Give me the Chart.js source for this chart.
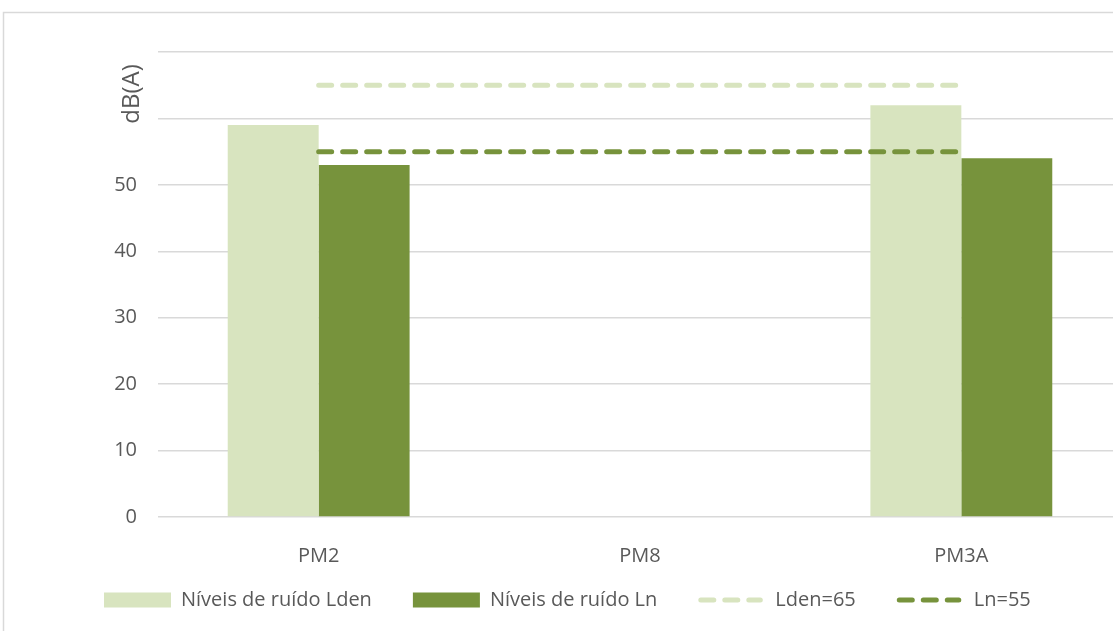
<!DOCTYPE html>
<html>
<head>
<meta charset="utf-8">
<script src="https://cdn.jsdelivr.net/npm/chart.js@4/dist/chart.umd.min.js"></script>
<style>
  html, body { margin: 0; padding: 0; background: #fff; overflow: hidden; }
  #wrap { position: relative; width: 1122px; height: 631px; }
</style>
</head>
<body>
<div id="wrap"><canvas id="noiseChart"></canvas></div>
<script>
const categories = ['PM2', 'PM8', 'PM3A'];
const ldenValues = [59, null, 62];
const lnValues = [53, null, 54];
const ldenLimit = [65, 65, 65];
const lnLimit = [55, 55, 55];
const yMin = 0;
const yMax = 70;
const yStep = 10;
// tick labels hidden behind the axis title in the original
const hiddenTicks = [60, 70];

const LIGHT = '#d8e4bf';
const DARK = '#77933c';
const TEXT = '#595959';
const GRID = '#d9d9d9';
const FONT = '"Open Sans", sans-serif';

// frame around the chart (like the Excel chart border)
const framePlugin = {
  id: 'frame',
  beforeDraw(chart) {
    const ctx = chart.ctx;
    ctx.save();
    ctx.strokeStyle = GRID;
    ctx.lineWidth = 1.5;
    ctx.strokeRect(3.5, 12.5, chart.width + 20, chart.height + 20);
    ctx.restore();
  }
};

// axis title + legend drawn by hand so the layout follows the original
const extrasPlugin = {
  id: 'extras',
  afterDraw(chart) {
    const ctx = chart.ctx;
    ctx.save();

    // y axis title
    ctx.translate(132, 94);
    ctx.rotate(-Math.PI / 2);
    ctx.fillStyle = TEXT;
    ctx.font = `24px ${FONT}`;
    ctx.textAlign = 'center';
    ctx.textBaseline = 'middle';
    ctx.fillText('dB(A)', 0, 0);
    ctx.setTransform(1, 0, 0, 1, 0, 0);

    // legend
    const y = 600;
    let x = 104;
    ctx.font = `20px ${FONT}`;
    ctx.textAlign = 'left';
    ctx.textBaseline = 'middle';
    chart.data.datasets.forEach(ds => {
      if (ds.type === 'line') {
        ctx.strokeStyle = ds.borderColor;
        ctx.lineWidth = 5;
        ctx.lineCap = 'round';
        ctx.setLineDash([13, 11]);
        ctx.beginPath();
        ctx.moveTo(x + 2.5, y);
        ctx.lineTo(x + 62, y);
        ctx.stroke();
        ctx.setLineDash([]);
        x += 64 + 13;
      } else {
        ctx.fillStyle = ds.backgroundColor;
        ctx.fillRect(x, y - 7.5, 67, 15);
        x += 67 + 10;
      }
      ctx.fillStyle = TEXT;
      ctx.fillText(ds.label, x, y);
      x += ctx.measureText(ds.label).width + 41;
    });
    ctx.restore();
  }
};

new Chart(document.getElementById('noiseChart').getContext('2d'), {
  type: 'bar',
  data: {
    labels: categories,
    datasets: [
      {
        label: 'Níveis de ruído Lden',
        data: ldenValues,
        backgroundColor: LIGHT,
        categoryPercentage: 0.566,
        barPercentage: 1,
        order: 2
      },
      {
        label: 'Níveis de ruído Ln',
        data: lnValues,
        backgroundColor: DARK,
        categoryPercentage: 0.566,
        barPercentage: 1,
        order: 2
      },
      {
        type: 'line',
        label: 'Lden=65',
        data: ldenLimit,
        borderColor: LIGHT,
        backgroundColor: LIGHT,
        borderWidth: 5,
        borderDash: [13, 11],
        borderCapStyle: 'round',
        pointRadius: 0,
        fill: false,
        order: 1
      },
      {
        type: 'line',
        label: 'Ln=55',
        data: lnLimit,
        borderColor: DARK,
        backgroundColor: DARK,
        borderWidth: 5,
        borderDash: [13, 11],
        borderCapStyle: 'round',
        pointRadius: 0,
        fill: false,
        order: 0
      }
    ]
  },
  options: {
    responsive: true,
    maintainAspectRatio: false,
    animation: false,
    layout: { padding: { top: 52, right: 0, bottom: 0, left: 0 } },
    plugins: {
      legend: { display: false },
      tooltip: { enabled: false }
    },
    scales: {
      x: {
        grid: { display: false },
        border: { display: false },
        ticks: { color: TEXT, font: { family: FONT, size: 20 }, padding: 19 },
        afterFit: s => { s.height = 114; }
      },
      y: {
        min: yMin,
        max: yMax,
        grid: { color: GRID, lineWidth: 1.5, drawTicks: false },
        border: { display: false },
        ticks: {
          stepSize: yStep,
          color: TEXT,
          padding: 21,
          font: { family: FONT, size: 20 },
          callback: v => (hiddenTicks.includes(v) ? '' : v)
        },
        afterFit: s => { s.width = 158; }
      }
    }
  },
  plugins: [framePlugin, extrasPlugin]
});
</script>
</body>
</html>
